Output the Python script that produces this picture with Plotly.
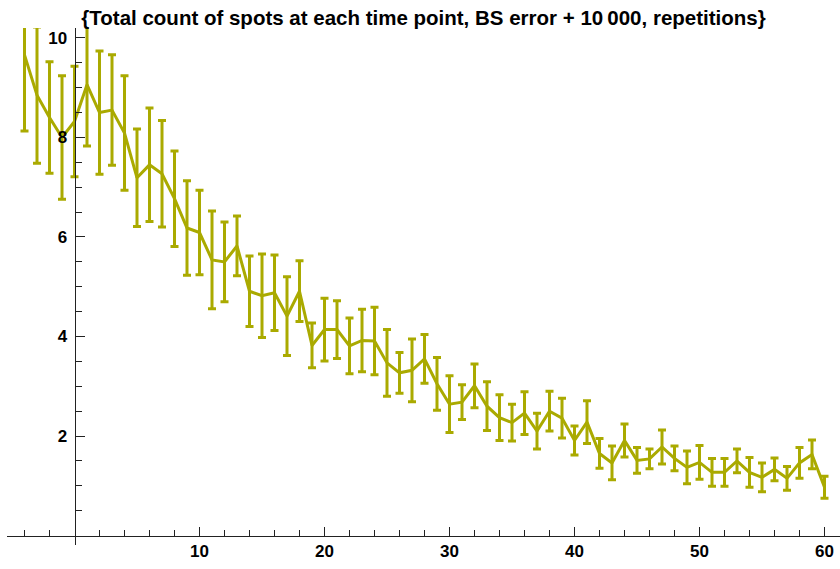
import plotly.graph_objects as go

# Time points (frames) and bootstrap statistics of the spot count
time_points = list(range(-4, 61))
mean_count = [
    9.66, 8.85, 8.40, 8.00, 8.32, 9.06, 8.50, 8.55, 8.09, 7.19,
    7.45, 7.27, 6.77, 6.18, 6.09, 5.54, 5.50, 5.82, 4.91, 4.82,
    4.88, 4.41, 4.91, 3.82, 4.14, 4.14, 3.81, 3.92, 3.91, 3.47,
    3.27, 3.32, 3.55, 3.05, 2.64, 2.68, 3.01, 2.60, 2.37, 2.27,
    2.46, 2.10, 2.50, 2.36, 1.91, 2.28, 1.65, 1.46, 1.91, 1.51,
    1.54, 1.78, 1.55, 1.37, 1.47, 1.27, 1.27, 1.50, 1.27, 1.17,
    1.33, 1.15, 1.46, 1.63, 0.97,
]
bs_error = [
    1.53, 1.37, 1.12, 1.24, 1.11, 1.23, 1.24, 1.11, 1.15, 0.98,
    1.14, 1.07, 0.96, 0.95, 0.85, 0.98, 0.80, 0.60, 0.71, 0.84,
    0.76, 0.79, 0.61, 0.45, 0.63, 0.58, 0.56, 0.63, 0.68, 0.67,
    0.41, 0.63, 0.49, 0.53, 0.57, 0.35, 0.44, 0.49, 0.46, 0.37,
    0.43, 0.36, 0.40, 0.40, 0.29, 0.43, 0.30, 0.34, 0.33, 0.26,
    0.20, 0.34, 0.25, 0.33, 0.34, 0.28, 0.28, 0.24, 0.30, 0.29,
    0.23, 0.24, 0.31, 0.29, 0.22,
]

x_major = [10, 20, 30, 40, 50, 60]
x_minor = [v for v in range(-4, 61, 2) if v % 10 != 0]
y_major = [2, 4, 6, 8, 10]
y_minor = [k / 2 for k in range(1, 21) if k % 4 != 0]

title_text = "{Total count of spots at each time point, BS error + 10\u2009000, repetitions}"

x_range = [-5.4, 61.24]
y_range = [-0.19, 10.2]

olive = "#aaaa00"
font_family = "Liberation Sans, Arial, sans-serif"

fig = go.Figure()
fig.add_trace(go.Scatter(
    x=time_points,
    y=mean_count,
    mode="lines",
    line=dict(color=olive, width=3),
    error_y=dict(type="data", array=bs_error, visible=True,
                 color=olive, thickness=3, width=4),
    showlegend=False,
))

axis_common = dict(
    showgrid=False,
    zeroline=False,
    showline=True,
    linecolor="#222222",
    linewidth=1,
    ticks="inside",
    tickcolor="#222222",
    tickwidth=1,
    ticklen=9,
    tickmode="array",
    tickfont=dict(family=font_family, size=17, color="black", weight="bold"),
    anchor="free",
)

fig.update_layout(
    width=840,
    height=569,
    margin=dict(l=7, r=0, t=28, b=24),
    paper_bgcolor="white",
    plot_bgcolor="white",
    title=dict(
        text=title_text,
        font=dict(family=font_family, size=20.5, color="black", weight="bold"),
        x=0.5, xref="paper", xanchor="center",
        y=1 - 18 / 569, yanchor="middle",
    ),
    xaxis=dict(
        axis_common,
        range=x_range,
        tickvals=x_major,
        position=(0 - y_range[0]) / (y_range[1] - y_range[0]),
        minor=dict(tickvals=x_minor, ticks="inside", ticklen=6,
                   tickcolor="#222222", tickwidth=1),
    ),
    yaxis=dict(
        axis_common,
        range=y_range,
        tickvals=y_major,
        ticklabelstandoff=4,
        position=(0 - x_range[0]) / (x_range[1] - x_range[0]),
        minor=dict(tickvals=y_minor, ticks="inside", ticklen=6,
                   tickcolor="#222222", tickwidth=1),
    ),
)

fig.write_html("out.html")
